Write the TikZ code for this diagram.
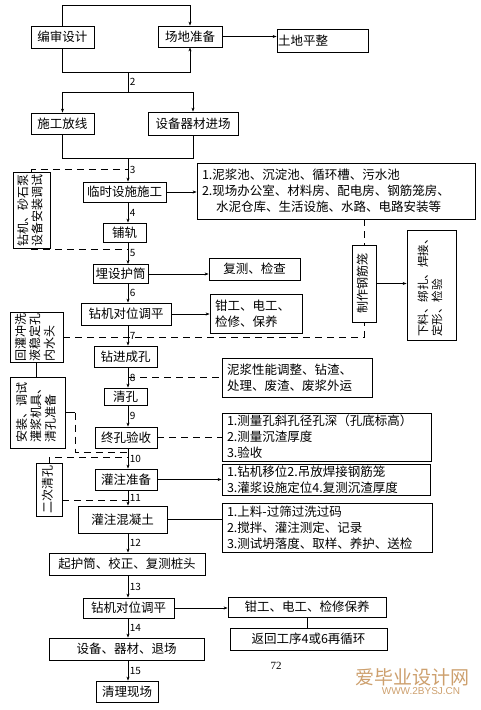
\documentclass[tikz,border=0pt]{standalone}
\usepackage{fontspec}
\usepackage{graphicx}
\setmainfont{Noto Sans CJK SC}
\newfontfamily\pagefont{Liberation Serif}
\newfontfamily\markfont{Liberation Sans}
\usetikzlibrary{arrows.meta}
\definecolor{marktan}{RGB}{205,160,110}
\newcommand{\vtext}[1]{\rotatebox{90}{\begin{tabular}{@{}l@{}}#1\end{tabular}}}
\begin{document}
\begin{tikzpicture}[
  x=1pt,
  y=-1pt,
  box/.style={draw=black,line width=0.8pt,inner sep=0pt,font=\fontsize{12.5}{15}\selectfont},
  note/.style={box,align=left,inner xsep=5pt,font=\fontsize{12.5}{16}\selectfont},
  side/.style={box,font=\fontsize{12}{14}\selectfont},
  arr/.style={draw=black,line width=0.8pt,-{Stealth[length=4pt,width=3pt]}},
  link/.style={draw=black,line width=0.8pt},
  dashln/.style={draw=black,line width=0.8pt,dash pattern=on 7pt off 5pt},
  num/.style={midway,right,inner sep=1.5pt,font=\fontsize{10}{12}\selectfont}
]
  \useasboundingbox (0,0) rectangle (480,710);
  \coordinate (spine) at (128,0);

  % preparation
  \node[box,minimum width=63pt,minimum height=22pt] (bianshen) at (62.5,37) {编审设计};
  \node[box,minimum width=64pt,minimum height=21pt] (changdi) at (190,36.5) {场地准备};
  \node[note,inner xsep=1pt,text width=89pt,minimum height=23pt] (tudi) at (322.5,40.5) {土地平整};
  \draw[arr] (bianshen.north) -- ++(0,-20) -| (changdi.north);
  \draw[arr] (bianshen.south) -- ++(0,24) -| (changdi.south);
  \draw[arr] (changdi.east) -- (changdi.east -| tudi.west);
  \coordinate (j1) at (128,72);
  \coordinate (j2) at (128,92);
  \draw[link] (j1) -- (j2) node[num] {2};

  \node[box,minimum width=63pt,minimum height=21pt] (shigong) at (62.5,123.5) {施工放线};
  \node[box,minimum width=90pt,minimum height=23pt] (shebei) at (193,123.5) {设备器材进场};
  \draw[arr] (j2) -| (shigong.north);
  \draw[arr] (j2) -| (shebei.north);
  \coordinate (j3) at (128,158);
  \draw[link] (shigong.south) |- (j3);
  \draw[link] (shebei.south) |- (j3);

  % main flow
  \node[box,minimum width=83pt,minimum height=20pt] (linshi) at (124.5,192) {临时设施施工};
  \node[box,minimum width=43pt,minimum height=19pt] (puguai) at (124.5,232.5) {铺轨};
  \node[box,minimum width=55pt,minimum height=19pt] (maishe) at (120.5,274) {埋设护筒};
  \node[box,minimum width=90pt,minimum height=22pt] (duiwei) at (126,314) {钻机对位调平};
  \node[box,minimum width=63pt,minimum height=21pt] (zuanjin) at (125.5,356.5) {钻进成孔};
  \node[box,minimum width=43pt,minimum height=17pt] (qingkong) at (125.5,396.5) {清孔};
  \node[box,minimum width=62pt,minimum height=21pt] (zhongkong) at (126,437.5) {终孔验收};
  \node[box,minimum width=62pt,minimum height=21pt] (guanzhu) at (126,479.5) {灌注准备};
  \node[box,minimum width=89pt,minimum height=27pt] (hunningtu) at (122.5,519.5) {灌注混凝土};
  \node[box,minimum width=156pt,minimum height=22pt] (qihutong) at (127,564) {起护筒、校正、复测桩头};
  \node[box,minimum width=91pt,minimum height=20pt] (duiwei2) at (128.5,608) {钻机对位调平};
  \node[box,minimum width=155pt,minimum height=22pt] (tuichang) at (126.5,649) {设备、器材、退场};
  \node[box,minimum width=62pt,minimum height=21pt] (qingli) at (127,691.5) {清理现场};

  \draw[arr] (j3) -- (linshi.north -| spine) node[num] {3};
  \draw[arr] (linshi.south -| spine) -- (puguai.north -| spine) node[num] {4};
  \draw[arr] (puguai.south -| spine) -- (maishe.north -| spine) node[num] {5};
  \draw[arr] (maishe.south -| spine) -- (duiwei.north -| spine) node[num] {6};
  \draw[arr] (duiwei.south -| spine) -- (zuanjin.north -| spine) node[num] {7};
  \draw[arr] (zuanjin.south -| spine) -- (qingkong.north -| spine) node[num] {8};
  \draw[arr] (qingkong.south -| spine) -- (zhongkong.north -| spine) node[num] {9};
  \draw[arr] (zhongkong.south -| spine) -- (guanzhu.north -| spine) node[num] {10};
  \draw[arr] (guanzhu.south -| spine) -- (hunningtu.north -| spine) node[num] {11};
  \draw[arr] (hunningtu.south -| spine) -- (qihutong.north -| spine) node[num] {12};
  \draw[arr] (qihutong.south -| spine) -- (duiwei2.north -| spine) node[num] {13};
  \draw[arr] (duiwei2.south -| spine) -- (tuichang.north -| spine) node[num] {14};
  \draw[arr] (tuichang.south -| spine) -- (qingli.north -| spine) node[num] {15};

  % notes on the right
  \node[note,text width=268pt,minimum height=56pt] (rb1) at (336,191)
    {1.泥浆池、沉淀池、循环槽、污水池\\2.现场办公室、材料房、配电房、钢筋笼房、\\\hspace*{14pt}水泥仓库、生活设施、水路、电路安装等};
  \node[box,minimum width=91pt,minimum height=22pt] (fc) at (254.5,269) {复测、检查};
  \node[note,text width=82pt,minimum height=39pt] (qg) at (256,313.5) {钳工、电工、\\检修、保养};
  \node[note,text width=140pt,minimum height=39pt] (nj) at (297,377.5) {泥浆性能调整、钻渣、\\处理、废渣、废浆外运};
  \node[note,text width=199pt,minimum height=48pt] (cl) at (326.5,437)
    {1.测量孔斜孔径孔深（孔底标高）\\2.测量沉渣厚度\\3.验收};
  \node[note,text width=198pt,minimum height=31pt] (zw) at (326,479.5)
    {1.钻机移位2.吊放焊接钢筋笼\\3.灌浆设施定位4.复测沉渣厚度};
  \node[note,text width=200pt,minimum height=49pt] (hl) at (327,527.5)
    {1.上料-过筛过洗过码\\2.搅拌、灌注测定、记录\\3.测试坍落度、取样、养护、送检};
  \node[box,minimum width=158pt,minimum height=20pt] (qg2) at (307,607) {钳工、电工、检修保养};
  \node[box,minimum width=157pt,minimum height=22pt] (fh) at (308.5,639) {返回工序4或6再循环};
  \node[side,minimum width=24pt,minimum height=77pt] (zhi) at (364,283.5) {\vtext{制作钢筋笼}};
  \node[side,font=\fontsize{11.5}{14}\selectfont,minimum width=49pt,minimum height=110pt] (xl) at (431.5,285)
    {\vtext{下料、绑扎、焊接、\\定形、检验}};

  \draw[arr] (linshi.east) -- (linshi.east -| rb1.west);
  \draw[arr] (maishe.east) -- (maishe.east -| fc.west);
  \draw[arr] (duiwei.east) -- (duiwei.east -| qg.west);
  \draw[dashln] (nj.west -| spine) -- (nj.west);
  \draw[dashln] (zhongkong.east) -- (zhongkong.east -| cl.west);
  \draw[arr] (guanzhu.east) -- (guanzhu.east -| zw.west);
  \draw[link] (hunningtu.east) -- (hunningtu.east -| hl.west);
  \draw[arr] (duiwei2.east) -- (duiwei2.east -| qg2.west);
  \draw[link] (qg2.south) -- (qg2.south |- fh.north);
  \draw[dashln] (zhi.north |- rb1.south) -- (zhi.north);
  \draw[arr] (zhi.east) -- (zhi.east -| xl.west);

  % side tasks on the left
  \node[side,minimum width=37pt,minimum height=76pt] (lb1) at (31.5,210) {\vtext{钻机、砂石泵\\设备安装调试}};
  \node[side,minimum width=53pt,minimum height=50pt] (lb2) at (36.5,337) {\vtext{回灌冲洗\\液稳定孔\\内水头}};
  \node[side,minimum width=55pt,minimum height=71pt] (lb3) at (37.5,412.5) {\vtext{安装、调试\\灌浆机具、\\清孔准备}};
  \node[side,minimum width=26pt,minimum height=53pt] (ec) at (49,489.5) {\vtext{二次清孔}};
  \coordinate (d3) at (128,169);
  \coordinate (d5) at (128,249);
  \coordinate (d10) at (128,452);
  \coordinate (d10b) at (128,457);
  \coordinate (d11) at (128,500);
  \draw[dashln] (lb1.north) |- (d3);
  \draw[dashln] (lb1.south) |- (d5);
  \draw[dashln] (lb2.east) -| (zhi.south);
  \draw[link] (lb2.south) -- (lb2.south |- lb3.north);
  \draw[link] (lb3.east) -- ++(10,0) coordinate (c10);
  \draw[dashln] (c10) |- (d10);
  \draw[dashln] (ec.north) |- (d10b);
  \draw[dashln] (d11 -| ec.east) -- (d11);

  % page number and mark
  \node[font=\pagefont\fontsize{11}{13}\selectfont] (page) at (276,666) {72};
  \node[text=marktan,font=\fontsize{19}{21}\selectfont,inner sep=0pt] (mark) at (412,677) {爱毕业设计网};
  \node[text=marktan,font=\markfont\fontsize{10}{12}\selectfont,inner sep=0pt] (site) at (421,691) {WWW.2BYSJ.CN};
\end{tikzpicture}
\end{document}
